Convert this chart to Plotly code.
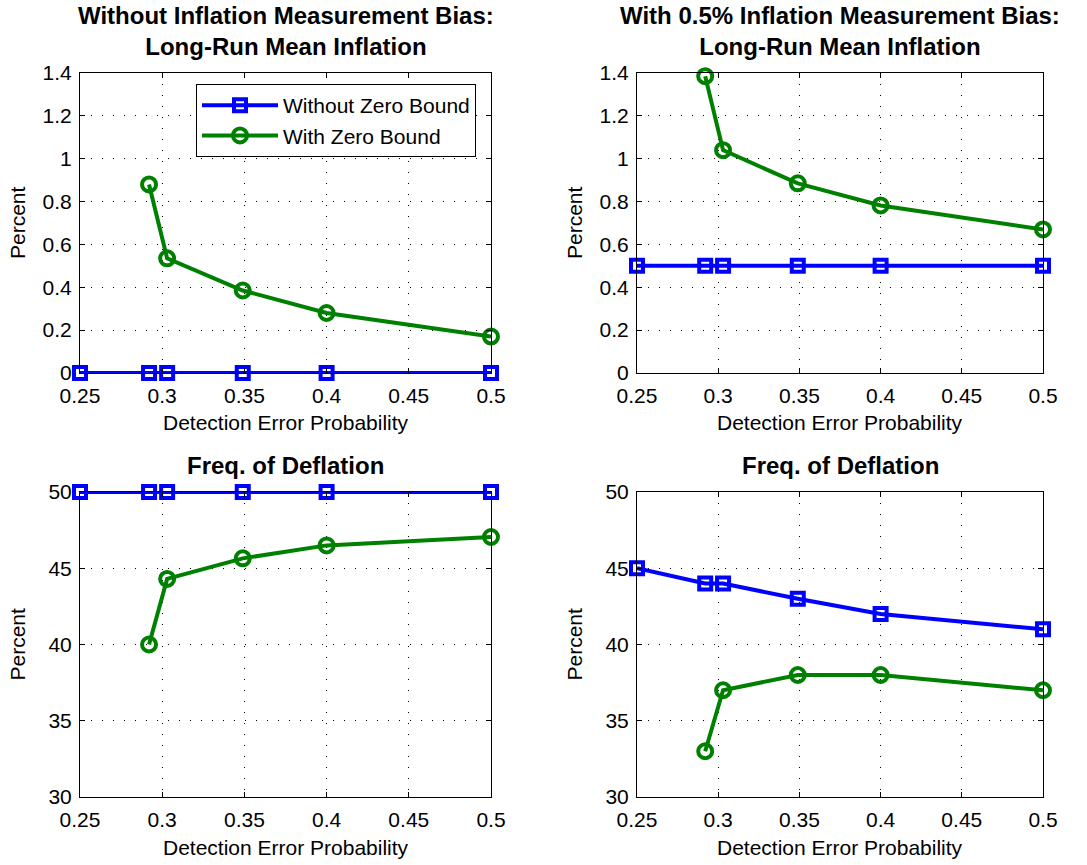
import plotly.graph_objects as go

# Detection error probabilities (x axis, shared by all panels)
detection_prob = [0.25, 0.292, 0.303, 0.349, 0.4, 0.5]
detection_prob_zb = [0.292, 0.303, 0.349, 0.4, 0.5]

# Long-run mean inflation (percent)
infl_nobias_nozb = [0, 0, 0, 0, 0, 0]
infl_nobias_zb = [0.88, 0.535, 0.385, 0.28, 0.17]
infl_bias_nozb = [0.5, 0.5, 0.5, 0.5, 0.5, 0.5]
infl_bias_zb = [1.385, 1.04, 0.885, 0.782, 0.67]

# Frequency of deflation (percent)
defl_nobias_nozb = [50, 50, 50, 50, 50, 50]
defl_nobias_zb = [40, 44.3, 45.65, 46.5, 47.05]
defl_bias_nozb = [45, 44, 44, 43, 42, 41]
defl_bias_zb = [33, 37, 38, 38, 37]

x_ticks = [0.25, 0.3, 0.35, 0.4, 0.45, 0.5]
x_ticktext = ["0.25", "0.3", "0.35", "0.4", "0.45", "0.5"]
infl_ticks = [0, 0.2, 0.4, 0.6, 0.8, 1.0, 1.2, 1.4]
infl_ticktext = ["0", "0.2", "0.4", "0.6", "0.8", "1", "1.2", "1.4"]
defl_ticks = [30, 35, 40, 45, 50]

titles = [
    "Without Inflation Measurement Bias:<br>Long-Run Mean Inflation",
    "With 0.5% Inflation Measurement Bias:<br>Long-Run Mean Inflation",
    "Freq. of Deflation",
    "Freq. of Deflation",
]

W, H = 1087, 865
BLUE = "#0000FF"
GREEN = "#008000"
FONT = "Liberation Sans, Arial, sans-serif"

# panel rectangles in pixels: (left, right, top, bottom)
panels = [
    (80, 491, 73, 373),
    (637, 1043, 73, 373),
    (80, 491, 492, 797),
    (637, 1043, 492, 797),
]

fig = go.Figure()

series = [
    (infl_nobias_nozb, infl_nobias_zb),
    (infl_bias_nozb, infl_bias_zb),
    (defl_nobias_nozb, defl_nobias_zb),
    (defl_bias_nozb, defl_bias_zb),
]

for i, (nozb, zb) in enumerate(series):
    xa = "x" if i == 0 else f"x{i+1}"
    ya = "y" if i == 0 else f"y{i+1}"
    fig.add_trace(go.Scatter(
        x=detection_prob, y=nozb, xaxis=xa, yaxis=ya,
        mode="lines+markers", name="Without Zero Bound",
        showlegend=(i == 0), cliponaxis=False,
        line=dict(color=BLUE, width=4),
        marker=dict(symbol="square-open", size=12, color=BLUE,
                    line=dict(width=4, color=BLUE)),
    ))
    fig.add_trace(go.Scatter(
        x=detection_prob_zb, y=zb, xaxis=xa, yaxis=ya,
        mode="lines+markers", name="With Zero Bound",
        showlegend=(i == 0), cliponaxis=False,
        line=dict(color=GREEN, width=4),
        marker=dict(symbol="circle-open", size=14, color=GREEN,
                    line=dict(width=4, color=GREEN)),
    ))

axis_common = dict(
    showline=True, linecolor="black", linewidth=1, mirror="ticks",
    ticks="inside", ticklen=5, tickcolor="black",
    showgrid=True, gridcolor="black", gridwidth=1, griddash="1px,10px",
    zeroline=False, automargin=False,
    tickfont=dict(family=FONT, size=21, color="black"),
)

layout = dict(
    width=W, height=H,
    margin=dict(l=0, r=0, t=0, b=0, autoexpand=False),
    paper_bgcolor="white", plot_bgcolor="white",
    font=dict(family=FONT, color="black"),
    showlegend=True,
    legend=dict(
        x=196 / W, y=1 - 84 / H, xanchor="left", yanchor="top",
        bordercolor="black", borderwidth=1, bgcolor="white",
        font=dict(family=FONT, size=21, color="black"),
        tracegroupgap=0, itemwidth=76,
    ),
)

annotations = []
for i, (l, r, t, b) in enumerate(panels):
    sfx = "" if i == 0 else str(i + 1)
    infl = i < 2
    layout["xaxis" + sfx] = dict(
        axis_common, domain=[l / W, r / W], range=[0.25, 0.5],
        tickvals=x_ticks, ticktext=x_ticktext, anchor="y" + sfx,
        ticklabelstandoff=4,
    )
    layout["yaxis" + sfx] = dict(
        axis_common, domain=[1 - b / H, 1 - t / H],
        range=[0, 1.4] if infl else [30, 50],
        tickvals=infl_ticks if infl else defl_ticks,
        ticktext=infl_ticktext if infl else [str(v) for v in defl_ticks],
        anchor="x" + sfx, ticklabelstandoff=3,
    )
    # panel title
    cy = 31 if infl else 465
    annotations.append(dict(
        text=f"<b>{titles[i]}</b>", xref="paper", yref="paper",
        x=(l + r) / 2 / W, y=1 - cy / H, xanchor="center", yanchor="middle",
        showarrow=False, font=dict(family=FONT, size=24, color="black"),
    ))
    # axis titles
    annotations.append(dict(
        text="Detection Error Probability", xref="paper", yref="paper",
        x=(l + r) / 2 / W, y=1 - (b + 50) / H, xanchor="center", yanchor="middle",
        showarrow=False, font=dict(family=FONT, size=21, color="black"),
    ))
    annotations.append(dict(
        text="Percent", xref="paper", yref="paper",
        x=(l - 63) / W, y=1 - (t + b) / 2 / H, xanchor="center", yanchor="middle",
        textangle=-90, showarrow=False,
        font=dict(family=FONT, size=21, color="black"),
    ))

layout["annotations"] = annotations
fig.update_layout(**layout)
fig.write_html("out.html")
